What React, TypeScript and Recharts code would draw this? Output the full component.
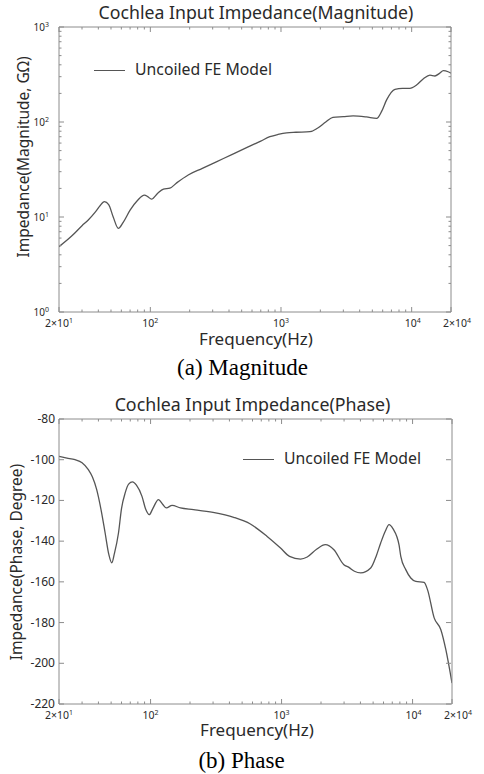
import { LineChart, Line, XAxis, YAxis } from 'recharts';

// Magnitude response, log-log
const magFreq = [
  20, 25, 30, 33.5, 38, 41, 44.5, 48, 52, 56.9, 62, 70, 80, 90, 96, 102, 114, 126, 141, 160, 195, 250,
  320, 420, 550, 700, 822, 950, 1104, 1300, 1665, 1900, 2200, 2495, 3000, 3565, 4500, 5395, 5900,
  6430, 7450, 8500, 9680, 10900, 12300, 13800, 15070, 16300, 17500, 19000, 20000,
];
const magValue = [
  4.87, 6.3, 8.1, 9.3, 11.3, 13.0, 14.5, 13.5, 10.0, 7.6, 8.8, 11.8, 15.0, 17.0, 16.3, 15.4, 17.8, 19.6,
  20.1, 23, 27.7, 32.5, 38.1, 45.4, 54, 63, 70, 74, 77, 78, 79, 86, 100, 112, 114, 116, 113, 109, 130,
  171, 221, 226, 226, 245, 285, 312, 305, 325, 347, 338, 326,
];

// Phase response, degrees
const phaseFreq = [
  20, 23, 26.5, 30, 33.5, 36, 38.8, 42, 45, 48, 50.6, 53, 56.9, 60, 64, 68, 72.8, 78, 86, 92, 97.8, 104,
  115, 124, 132, 146, 169, 213, 300, 431, 578, 776, 982, 1150, 1396, 1570, 1850, 2157, 2510, 2990,
  3270, 3600, 4020, 4790, 5300, 5710, 6200, 6610, 7100, 7890, 8130, 8870, 9690, 10590, 12250, 13000,
  14620, 16440, 17950, 20000,
];
const phaseValue = [
  -98.4, -99.2, -100, -101.5, -104.9, -108.5, -114.7, -125, -136, -146.5, -150.7, -146, -136, -124,
  -116.3, -112, -110.9, -112.5, -118, -124.5, -127, -124, -119.6, -122, -123.7, -122.4, -123.7, -124.5,
  -125.9, -128.3, -131.6, -137.7, -143.4, -147.5, -148.8, -147.8, -144, -141.7, -144.2, -151.6, -152.9,
  -154.8, -155.6, -153.2, -147, -140.9, -135, -131.9, -134, -142, -147.5, -154, -158.1, -159.8, -160.3,
  -163.8, -177.7, -183.5, -193.3, -209.7,
];

const freqTicks = [
  20, 30, 40, 50, 60, 70, 80, 90, 100, 200, 300, 400, 500, 600, 700, 800, 900, 1000, 2000, 3000, 4000,
  5000, 6000, 7000, 8000, 9000, 10000, 20000,
];
const freqLabels: Record<number, [string, string]> = {
  20: ['2×10', '1'],
  100: ['10', '2'],
  1000: ['10', '3'],
  10000: ['10', '4'],
  20000: ['2×10', '4'],
};
const magTicks = [
  1, 2, 3, 4, 5, 6, 7, 8, 9, 10, 20, 30, 40, 50, 60, 70, 80, 90, 100, 200, 300, 400, 500, 600, 700, 800,
  900, 1000,
];
const magLabels: Record<number, string> = { 1: '0', 10: '1', 100: '2', 1000: '3' };
const phaseTicks = [-220, -200, -180, -160, -140, -120, -100, -80];

const magData = magFreq.map((f, i) => ({ f, v: magValue[i] }));
const phaseData = phaseFreq.map((f, i) => ({ f, v: phaseValue[i] }));

const FONT = '"Noto Sans", sans-serif';
const SERIF = '"Liberation Serif", "Times New Roman", serif';
const FRAME = '#8c8c8c';
const INK = '#555555';
const TEXT = '#2a2a2a';
const W = 484;
const LEFT = 59;
const RIGHT = 33;
const PLOT_W = W - LEFT - RIGHT;

// bottom axis ticks point inward, mirrored on the top edge
const freqTick = (plotH: number, labelDy: number) => (props: any) => {
  const { x, y, payload } = props;
  const lab = freqLabels[payload.value];
  const len = lab ? 5 : 2.5;
  const dx = payload.value === 20000 ? 6 : payload.value === 10000 ? 1 : 0;
  return (
    <g>
      <line x1={x} x2={x} y1={y} y2={y - len} stroke={FRAME} />
      <line x1={x} x2={x} y1={y - plotH} y2={y - plotH + len} stroke={FRAME} />
      {lab && (
        <text x={x + dx} y={y + labelDy} textAnchor="middle" fontSize={10.5} fill={TEXT} fontFamily={FONT}>
          {lab[0]}
          <tspan dy={-4} fontSize={7}>
            {lab[1]}
          </tspan>
        </text>
      )}
    </g>
  );
};

const magTick = (props: any) => {
  const { x, y, payload } = props;
  const lab = magLabels[payload.value];
  const len = lab ? 5 : 2.5;
  return (
    <g>
      <line x1={x} x2={x + len} y1={y} y2={y} stroke={FRAME} />
      <line x1={x + PLOT_W} x2={x + PLOT_W - len} y1={y} y2={y} stroke={FRAME} />
      {lab && (
        <text x={x - 10} y={y + 3.5} textAnchor="end" fontSize={10} fill={TEXT} fontFamily={FONT}>
          10
          <tspan dy={-4} fontSize={7}>
            {lab}
          </tspan>
        </text>
      )}
    </g>
  );
};

const phaseTick = (props: any) => {
  const { x, y, payload } = props;
  return (
    <g>
      <line x1={x} x2={x + 5} y1={y} y2={y} stroke={FRAME} />
      <line x1={x + PLOT_W} x2={x + PLOT_W - 5} y1={y} y2={y} stroke={FRAME} />
      <text x={x - 4} y={y + 4} textAnchor="end" fontSize={12} fill={TEXT} fontFamily={FONT}>
        {payload.value}
      </text>
    </g>
  );
};

const abs = (left: number, top: number, extra: any = {}): any => ({
  position: 'absolute',
  left,
  top,
  whiteSpace: 'pre',
  fontFamily: FONT,
  color: TEXT,
  lineHeight: 1,
  ...extra,
});

const centered = (cx: number, cy: number, size: number, text: string, extra: any = {}) => (
  <div style={abs(cx, cy, { fontSize: size, transform: 'translate(-50%, -50%)', ...extra })}>{text}</div>
);

const legendRow = (x: number, y: number) => (
  <div style={abs(x, y - 9, { display: 'flex', alignItems: 'center', fontSize: 15.8, height: 18 })}>
    <span style={{ display: 'inline-block', width: 31, borderTop: `1.2px solid ${INK}`, marginRight: 10 }} />
    <span>Uncoiled FE Model</span>
  </div>
);

const App = () => {
  const magH = 380;
  const magPlot = { top: 27, bottom: 312 };
  const phH = 394;
  const phTop = 380;
  const phPlot = { top: 419, bottom: 704 };

  // axes take 1px each; margins absorb it so the plot box lands where intended
  return (
    <div style={{ position: 'absolute', left: 0, top: 0, width: W, height: 774, background: '#fff' }}>
      {/* magnitude */}
      <div style={{ position: 'absolute', left: 0, top: 0 }}>
        <LineChart
          width={W}
          height={magH}
          data={magData}
          margin={{ top: magPlot.top - 1, right: RIGHT - 1, bottom: magH - magPlot.bottom - 1, left: LEFT - 1 }}
        >
          <XAxis
            dataKey="f"
            type="number"
            scale="log"
            domain={[20, 20000]}
            allowDataOverflow
            ticks={freqTicks}
            interval={0}
            height={1}
            tickSize={0}
            tickMargin={0}
            stroke={FRAME}
            tick={freqTick(magPlot.bottom - magPlot.top, 15)}
          />
          <XAxis
            xAxisId="top"
            orientation="top"
            dataKey="f"
            type="number"
            domain={[20, 20000]}
            scale="log"
            allowDataOverflow
            height={1}
            tick={false}
            tickLine={false}
            stroke={FRAME}
          />
          <YAxis
            dataKey="v"
            type="number"
            scale="log"
            domain={[1, 1000]}
            allowDataOverflow
            ticks={magTicks}
            interval={0}
            width={1}
            tickSize={0}
            tickMargin={0}
            stroke={FRAME}
            tick={magTick}
          />
          <YAxis
            yAxisId="right"
            orientation="right"
            dataKey="v"
            type="number"
            domain={[1, 1000]}
            scale="log"
            allowDataOverflow
            width={1}
            tick={false}
            tickLine={false}
            stroke={FRAME}
          />
          <Line type="monotone" dataKey="v" stroke={INK} strokeWidth={1.3} dot={false} isAnimationActive={false} />
        </LineChart>
      </div>
      {centered(256, 12.5, 17.7, 'Cochlea Input Impedance(Magnitude)')}
      {legendRow(94, 70)}
      {centered(256, 338, 17, 'Frequency(Hz)')}
      {centered(24, 157, 15.5, 'Impedance(Magnitude, GΩ)', { transform: 'translate(-50%, -50%) rotate(-90deg)' })}
      {centered(242.5, 367, 23, '(a) Magnitude', { fontFamily: SERIF, color: '#000' })}

      {/* phase */}
      <div style={{ position: 'absolute', left: 0, top: phTop }}>
        <LineChart
          width={W}
          height={phH}
          data={phaseData}
          margin={{ top: phPlot.top - phTop - 1, right: RIGHT - 2, bottom: phTop + phH - phPlot.bottom - 1, left: LEFT - 1 }}
        >
          <XAxis
            dataKey="f"
            type="number"
            scale="log"
            domain={[20, 20000]}
            allowDataOverflow
            ticks={freqTicks}
            interval={0}
            height={1}
            tickSize={0}
            tickMargin={0}
            stroke={FRAME}
            tick={freqTick(phPlot.bottom - phPlot.top, 14.5)}
          />
          <XAxis
            xAxisId="top"
            orientation="top"
            dataKey="f"
            type="number"
            domain={[20, 20000]}
            scale="log"
            allowDataOverflow
            height={1}
            tick={false}
            tickLine={false}
            stroke={FRAME}
          />
          <YAxis
            dataKey="v"
            type="number"
            domain={[-220, -80]}
            allowDataOverflow
            ticks={phaseTicks}
            interval={0}
            width={1}
            tickSize={0}
            tickMargin={0}
            stroke={FRAME}
            tick={phaseTick}
          />
          <YAxis
            yAxisId="right"
            orientation="right"
            dataKey="v"
            type="number"
            domain={[-220, -80]}
            allowDataOverflow
            width={1}
            tick={false}
            tickLine={false}
            stroke={FRAME}
          />
          <Line type="monotone" dataKey="v" stroke={INK} strokeWidth={1.3} dot={false} isAnimationActive={false} />
        </LineChart>
      </div>
      {centered(252.5, 405, 17.8, 'Cochlea Input Impedance(Phase)')}
      {legendRow(243, 459)}
      {centered(257, 729, 17, 'Frequency(Hz)')}
      {centered(17, 562, 15.5, 'Impedance(Phase, Degree)', { transform: 'translate(-50%, -50%) rotate(-90deg)' })}
      {centered(241.5, 760, 23, '(b) Phase', { fontFamily: SERIF, color: '#000' })}
    </div>
  );
};

export default App;
